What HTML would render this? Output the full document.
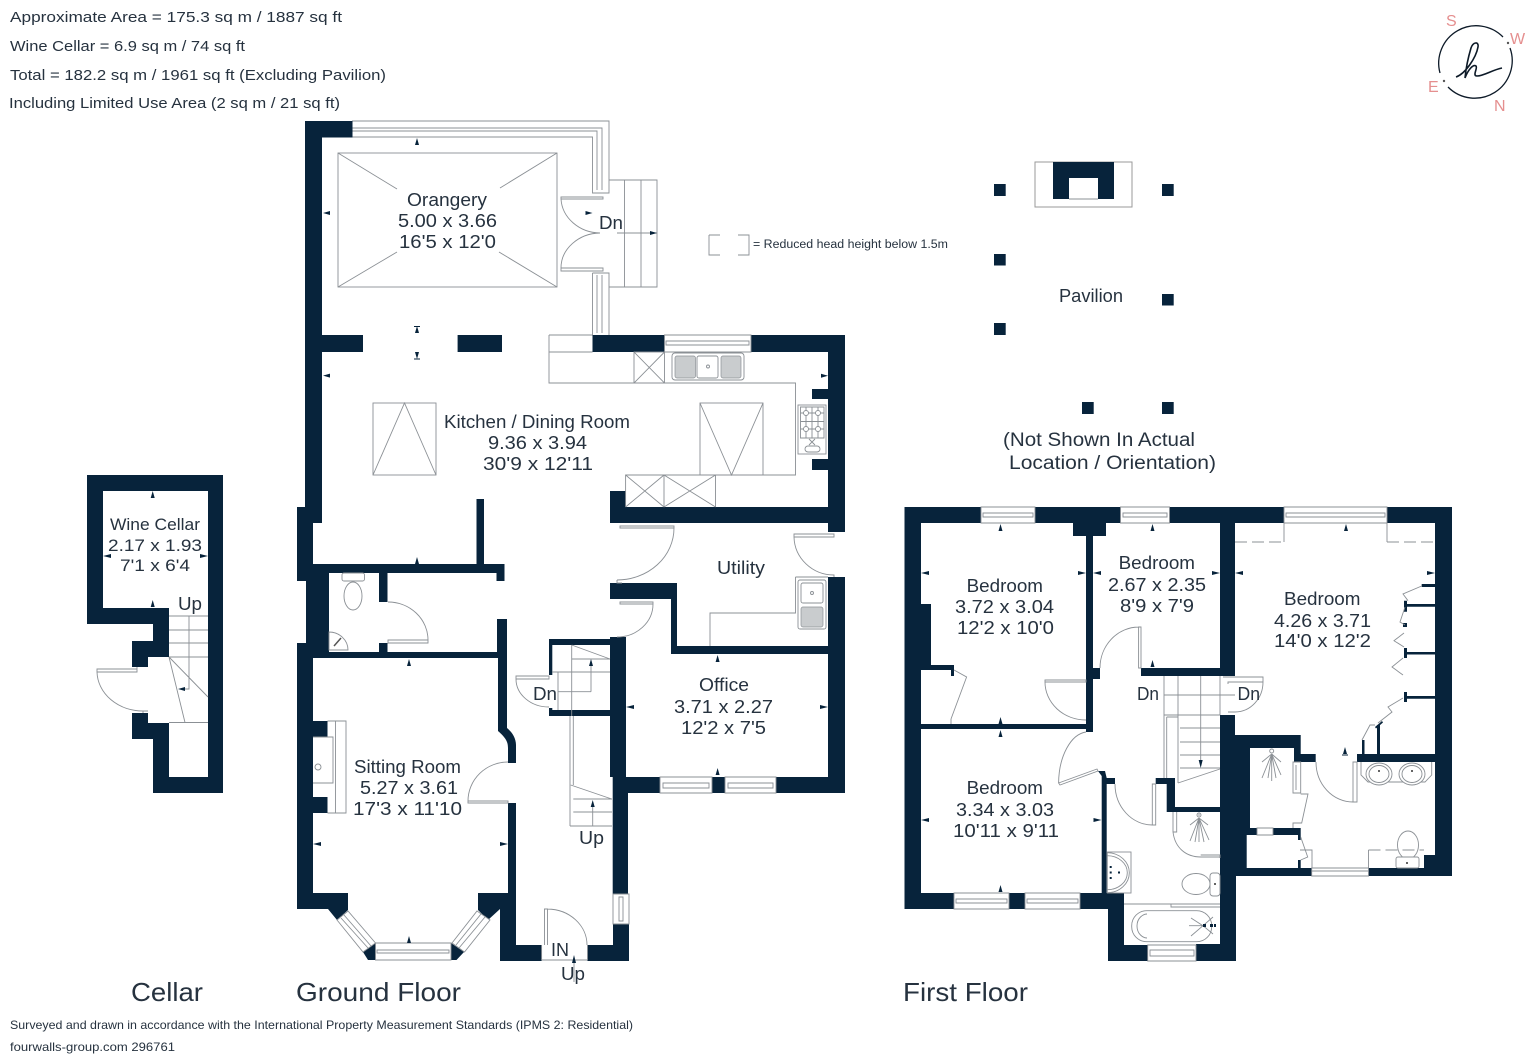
<!DOCTYPE html>
<html><head><meta charset="utf-8"><style>
html,body{margin:0;padding:0;background:#fff}
svg{display:block}
text{font-family:"Liberation Sans",sans-serif;fill:#26323f}
.w{fill:#07233b;stroke:none}
.l{fill:none;stroke:#8b9095;stroke-width:.9}
.f{fill:#fff;stroke:#8b9095;stroke-width:.9}
.a{fill:#07233b;stroke:none}
.r{font-size:18px;text-anchor:start}
.h{font-size:15px}
.t{font-size:26px}
</style></head><body>
<svg xmlns="http://www.w3.org/2000/svg" width="1538" height="1058" viewBox="0 0 1538 1058">
<rect width="1538" height="1058" fill="#fff"/>

<!-- header -->
<text class="h" x="10" y="22" textLength="332" lengthAdjust="spacingAndGlyphs">Approximate Area = 175.3 sq m / 1887 sq ft</text>
<text class="h" x="10" y="51" textLength="235" lengthAdjust="spacingAndGlyphs">Wine Cellar = 6.9 sq m / 74 sq ft</text>
<text class="h" x="10" y="80" textLength="376" lengthAdjust="spacingAndGlyphs">Total = 182.2 sq m / 1961 sq ft (Excluding Pavilion)</text>
<text class="h" x="9" y="108" textLength="331" lengthAdjust="spacingAndGlyphs">Including Limited Use Area (2 sq m / 21 sq ft)</text>

<!-- compass -->
<path d="M1503 37A37.5 37.5 0 0 0 1440 73M1448 87A37.5 37.5 0 0 0 1510 48" fill="none" stroke="#0d1a28" stroke-width="1.3"/>
<path d="M1456 77C1465 74 1476 58 1478 47C1479 41 1473 42 1471 48C1468 58 1466 68 1465 78C1468 70 1473 64 1476 66C1478 68 1472 76 1477 76C1484 76 1492 70 1502 68" fill="none" stroke="#0d1a28" stroke-width="1.6"/>
<circle cx="1508" cy="43" r="1.2" fill="#555"/><circle cx="1444" cy="81" r="1.2" fill="#555"/>
<g font-size="16">
<text x="1446" y="26" style="fill:#e58f8f">S</text><text x="1510" y="44" style="fill:#e58f8f">W</text><text x="1428" y="92" style="fill:#e58f8f">E</text><text x="1494" y="111" style="fill:#e58f8f">N</text></g>

<!-- legend -->
<path class="l" d="M709 235H720M738 235H749V255H738M720 255H709V235" />
<text font-size="11.5" x="753" y="248" textLength="195" lengthAdjust="spacingAndGlyphs">= Reduced head height below 1.5m</text>

<!-- ==== GROUND FLOOR ==== -->
<!-- orangery glazing -->
<path class="l" d="M352 121H609V193H592.5V137H352M352 128H602V190M352 131H597V190"/>
<path class="l" d="M592.5 273H609V335M592.5 273V335M597 275V333M602 275V333"/>
<!-- orangery steps -->
<path class="l" d="M609 180H657V287H609M624.5 180V287M641 180V287"/>
<path class="l" d="M617 233H657"/><path class="a" d="M657 233l-7-2v4z"/>
<!-- orangery doors -->
<path class="l" d="M561 197H603V199H561ZM561 268H603V271H561ZM561 199A40 36 0 0 0 600 233M561 268A40 35 0 0 1 600 233"/>
<!-- orangery roof -->
<rect class="l" x="338" y="153" width="219" height="134"/>
<path class="l" d="M338 153L397 189M557 153L500 188M338 287L397 252M557 287L499 252"/>

<!-- walls ground -->
<path class="w" d="M305 121H352.5V137.5H322V523H313V564H504.5V581H496.5V573H387.5V602H379V573H329V652H379V643H387.5V652H497V619H507V728C512 732 516 738 516 745V763H508V748C508 742 506 738 498 731V658H313V893H348V910L337 920L328 909H297V643H306V581H297V507H305Z"/>
<rect class="w" x="476.5" y="499" width="7.5" height="65"/>
<path class="w" d="M322 335H363V352H322ZM457.6 335H502V352H457.6Z"/>
<path class="w" d="M592.5 335H664.5V352H592.5ZM751 335H845V532H828V352H751Z"/>
<path class="w" d="M812 389H828V399H812ZM812 459H828V470H812Z"/>
<path class="w" d="M610 491H626V507H828V523H610Z"/>
<path class="w" d="M610 583H677V646H828V577H845V793H776V777H828V654H671V599H610Z"/>
<path class="w" d="M610 637H626V777H660V793H628V894H612.7V777H610Z"/>
<path class="w" d="M549 639H610V645H552.3V675H549ZM549 708H552.3V710H612V716H549Z"/>
<rect class="w" x="712" y="777" width="13" height="16"/>
<path class="w" d="M613 924H629V961H587.5V945H613Z"/>
<path class="w" d="M500 909H478V893H508V803H516V945H541.6V961H500Z"/>
<path class="w" d="M363 952L375.5 943V960H368Z"/>
<path class="w" d="M451 943L464 952L456.5 960H451Z"/>
<path class="w" d="M478 893V910L488 920L500 909V893Z"/>
<path class="w" d="M313 721H327.5V737H313ZM313 797H327.5V813H313Z"/>
<!-- bay windows -->
<path class="f" d="M375.5 943H451V960H375.5ZM377 950H449V953H377Z"/>
<path class="f" d="M337 920L348 911L375.5 943L363 952Z"/><path class="l" d="M341 918L368 948M344 915L371 946"/>
<path class="f" d="M452 943L464.5 952L490 920L477 911Z"/><path class="l" d="M456 945L481 914M459 948L485 917"/>
<!-- window kitchen / office / hall -->
<path class="f" d="M664.5 335H751V352H664.5ZM666 341H749V345H666Z"/>
<path class="f" d="M660 777H712V793H660ZM663 783H709V788H663Z"/>
<path class="f" d="M725 777H776V793H725ZM728 783H773V788H728Z"/>
<path class="f" d="M613 894H629V924H613ZM619 897H623V921H619Z"/>
<!-- kitchen counters -->
<path class="l" d="M549 335H592.5M549 352H592.5M549 335V383H795.5V475H625.6V507M715.5 475V507M664 475V507"/>
<path class="l" d="M625.6 475L664 507M664 475L625.6 507M664 475L715.5 507M715.5 475L664 507"/>
<rect class="l" x="634" y="352" width="30.5" height="31"/><path class="l" d="M634 352L664.5 383M664.5 352L634 383"/>
<rect class="l" x="672" y="353" width="72" height="27" rx="3"/>
<g fill="#c9ccce" stroke="#8b9095" stroke-width=".7"><rect x="675" y="356" width="20.5" height="22" rx="2"/><rect x="721" y="356" width="20" height="22" rx="2"/></g>
<rect class="l" x="697" y="356" width="21" height="22" rx="2"/><circle class="l" cx="708" cy="366.500" r="1.500"/>
<rect class="l" x="700" y="403" width="63" height="72"/><path class="l" d="M700 403L731.500 475L763 403"/>
<rect class="l" x="373" y="403" width="63" height="72"/><path class="l" d="M373 475L404.500 403L436 475"/>
<!-- hob -->
<rect class="l" x="798" y="405" width="28" height="49"/>
<path class="l" d="M800.500 407H824V438H800.500ZM806 407V438M812 407V438M818 407V438M800.500 413H824M800.500 421.500H824M800.500 429H824"/>
<circle class="f" cx="806" cy="413" r="2.500"/><circle class="f" cx="818" cy="413" r="2.500"/><circle class="f" cx="806" cy="429" r="2.500"/><circle class="f" cx="818" cy="429" r="2.500"/>
<path class="l" d="M809 439L815 445M815 439L809 445"/><rect class="l" x="805" y="446" width="15" height="6" rx="3"/>
<!-- doors -->
<path class="l" d="M620 526H674V528H620ZM674 528A57 52 0 0 1 617 580M617 580V583H622"/>
<path class="l" d="M794 534H834V537H794ZM794 537A40 39 0 0 0 834 575V577"/>
<path class="l" d="M620 602H653V604H620ZM653 604A36 33 0 0 1 617 637"/>
<path class="l" d="M516 676H549V679H516ZM516 679A33 28 0 0 0 549 707"/>
<path class="l" d="M468 801H508V803H468ZM468 801A40 39 0 0 1 508 762"/>
<path class="l" d="M388 640H428V643H388ZM428 640A40 38 0 0 0 388 602"/>
<path class="l" d="M544.500 945V909H547.500V945M547.500 909A40 36 0 0 1 587 945M541.600 960H587.500M541.600 945V960M587.500 945V960"/>
<!-- WC -->
<rect class="l" x="342" y="573" width="22.500" height="8" rx="2"/><ellipse class="l" cx="353" cy="596" rx="9" ry="14"/>
<path class="l" d="M329 632A19 18 0 0 1 348 650H329Z"/><path d="M334 646L341 638" stroke="#555" stroke-width="1.500"/>
<!-- utility -->
<path class="l" d="M795.500 577V613H710V646M795.500 577H828"/>
<rect class="l" x="798" y="580" width="28" height="49" rx="2"/>
<rect class="l" x="801" y="583" width="22" height="20" rx="2"/><circle class="l" cx="812" cy="593" r="1.500"/>
<rect x="801" y="607" width="22" height="20" rx="2" fill="#c9ccce" stroke="#8b9095" stroke-width=".7"/>
<!-- sitting fireplace -->
<path class="l" d="M327.500 721H346V813H327.500M335.500 721V813M313 737H333V783H313"/><circle class="l" cx="318" cy="767" r="3"/>
<!-- ground stairs -->
<path class="l" d="M571.700 645V716M570 716V826M573.300 716V785M571.700 645L610 659M571.700 659H610M552.300 672H610M558 691.700H591M558 672V710M570.700 785L611.700 799M573.300 799H612M573.300 812H612M570 826H612"/>
<path class="l" d="M591 691.700V661M592.700 826V802"/>
<path class="a" d="M591 659l-2 7h4zM592.700 800l-2 7h4z"/>
<path class="l" d="M574 961V982"/><path class="a" d="M574 955l-2 8h4z"/>

<!-- CELLAR -->
<path class="w" d="M87 475H223V793H153V739H132V713H148V723H169V777H208V491H103V608H169V657H148V667H132V641H153V624H87Z"/>
<path class="l" d="M169 616H208M169 630H208M169 643H208M169 657H208M169 722.500H208M169 657L208 697M169 657L185 722.500M189 616V689H180"/>
<path class="a" d="M178 689l7-2v4z"/>
<path class="l" d="M97 669H137V672H97ZM97 672A46 40 0 0 0 143 711H148M137 667V672M143 711V713"/>

<!-- PAVILION -->
<rect x="1035" y="162" width="97" height="45" fill="#fff" stroke="#9a9a9a" stroke-width="1"/>
<path class="w" d="M1053 162H1114V199H1098V178H1069V199H1053Z"/>
<path class="l" d="M1069 199H1098"/>
<path class="w" d="M994 184h11.700v12h-11.700zM1162 184h11.700v12h-11.700zM994 254h11.700v11.500h-11.700zM994 323h11.700v12h-11.700zM1162 294h11.700v11.500h-11.700zM1082 402h11.700v12h-11.700zM1162 402h11.700v12h-11.700z"/>

<!-- ==== FIRST FLOOR ==== -->
<path class="w" d="M904.500 507H981V523H921V604H931V665H954V676H951V670H921V724H1086V536H1073V523H1035V507H1120.500V523H1106V536H1093V668H1100V679H1093V720H1093V732H1086V729H921V893H954V909H904.500Z"/>
<path class="w" d="M1169.500 507H1284V523H1235V676H1141V668H1220V523H1169.500Z"/>
<path class="w" d="M1387 507H1452V876H1368.500V868H1424V855H1435V523H1387Z"/>
<path class="w" d="M1220 715H1235V735H1300.700V754H1315.700V762H1294V748H1250V828H1257V835H1246.700V868H1311.700V876H1236V961H1196V944H1220Z"/>
<path class="w" d="M1273 828H1300.700V840H1298V835H1273ZM1298 860H1300.700V868H1298Z"/>
<path class="w" d="M1357 754H1435V762H1357Z"/>
<path class="w" d="M1098 771H1105L1106.700 778H1115V784H1106.700V893H1124V945H1147.700V961H1108V909H1080V893H1101.700V776Z"/>
<path class="w" d="M1009 893H1025V909H1009Z"/>
<path class="w" d="M1155.700 778H1175V807H1220V812H1166.700V784H1155.700Z"/>
<!-- wardrobe partitions -->
<path class="w" d="M1377 725H1380V754H1377ZM1362 740H1364.500V754H1362ZM1375 727L1382 721L1383 722.500L1376 728.500ZM1405 604H1435V606.700H1405ZM1405 652H1435V654.500H1405ZM1405 696H1435V698.700H1405ZM1421.700 584H1435V587H1421.700ZM1404 600.700H1407V611.700H1404ZM1404 648H1407V658H1404ZM1404 692H1407V702H1404ZM1403 623H1407V627H1403Z"/>
<path class="l" d="M1421.700 586L1403 594L1408 600.700M1405 607L1400 622L1405 625M1404 633L1394 640.700L1404 647M1403 658L1392 667L1403 675M1403 698L1388 707L1392 712L1378 723M1375 725H1370L1362 740"/>
<!-- first floor windows -->
<path class="f" d="M981 507H1035V523H981ZM983 513H1033V517H983Z"/>
<path class="f" d="M1120.500 507H1169.500V523H1120.500ZM1123 513H1167V517H1123Z"/>
<path class="f" d="M1284 507H1387V523H1284ZM1286 513H1385V517H1286Z"/>
<path class="f" d="M954 893H1009V909H954ZM956 899H1007V903H956Z"/>
<path class="f" d="M1025 893H1080V909H1025ZM1027 899H1078V903H1027Z"/>
<path class="f" d="M1147.700 945H1196V961H1147.700ZM1150 950H1194V956H1150Z"/>
<path class="f" d="M1311.700 868H1368.500V876H1311.700ZM1311.700 871H1368.500"/>
<path class="f" d="M1257 828H1273V835H1257Z"/>
<!-- reduced head height -->
<path class="l" d="M1284 523V542M1387 523V542" />
<path class="l" stroke-dasharray="12 5" d="M1235 542H1284M1387 542H1436"/>
<path class="l" stroke-dasharray="12 5" d="M1368.500 850H1424"/><path class="l" d="M1368.500 850V868"/>
<!-- first floor doors -->
<path class="l" d="M1138.600 627H1141V668H1138.600ZM1138.600 627A39 41 0 0 0 1100 668"/>
<path class="l" d="M1045 680H1086V682H1045ZM1045 682A41 38 0 0 0 1086 720"/>
<path class="l" d="M1058.600 783L1097 769L1098 771L1060 785ZM1058.600 783A30 52 0 0 1 1086 732"/>
<path class="l" d="M1152.300 784H1155.700V825H1152.300ZM1152.300 825A37.300 41 0 0 1 1115 784"/>
<path class="l" d="M1223 677H1263V682H1228V684M1263 682A28 30 0 0 1 1235 712M1228 712H1235"/>
<path class="l" d="M1353 762H1357V802H1353ZM1353 802A37 40 0 0 1 1316 762"/>
<path class="l" d="M951 719L966.600 677L954 670M951 719V724"/>
<!-- first stairs -->
<path class="l" d="M1164 676V778M1164 695H1235M1164 715H1220M1180 728H1220M1180 742H1220M1180 755H1220M1180 768H1220M1178 676V783M1166.700 717H1178V778M1166.700 717V778M1200.700 676V715M1220 676V715M1178 783L1220 769M1200.700 695V762"/>
<path class="a" d="M1200.700 768l-2-8h4z"/>
<!-- bath -->
<path class="l" d="M1173 812V832C1175 848 1186 857 1201 857H1220M1176.700 812V832H1173M1200.700 855H1220V858"/>
<path class="l" d="M1199 816V814M1199 818L1190 841M1199 818L1195 842M1199 818V842M1199 818L1204 842M1199 818L1209 840M1199 818L1190 825M1199 818L1208 825"/>
<circle class="l" cx="1199" cy="815" r="2"/>
<rect class="l" x="1107.300" y="852" width="23.700" height="41"/>
<path class="l" d="M1107.300 852.700A22 20 0 0 1 1107.300 892.700M1107.300 855.700A20 17 0 0 1 1107.300 889.700"/>
<path class="a" d="M1109.700 866h2v2h-2zM1109.700 871.500h2v2h-2zM1109.700 877h2v2h-2zM1118 871.500h2v2h-2z"/>
<ellipse class="l" cx="1196" cy="884" rx="14" ry="10.500"/><rect class="l" x="1210" y="873" width="10" height="23" rx="3"/>
<circle cx="1215" cy="884" r="1" fill="#333"/>
<path class="l" d="M1124 904H1220M1171 904V907H1220"/>
<rect class="l" x="1131.700" y="910.700" width="80" height="31" rx="15"/>
<path class="l" d="M1137 926C1137 918 1143 914 1147 914M1137 926C1137 934 1143 938 1147 938"/>
<path class="l" d="M1203 925.700L1191 918M1203 925.700H1189M1203 925.700L1191 936M1203 925.700L1213 917M1203 925.700L1213 934"/>
<path class="a" d="M1203 924h3v3h-3zM1210 924h3v3h-3zM1214 924h2v3h-2z"/>
<!-- ensuite -->
<path class="l" d="M1271.700 754L1262 778M1271.700 754L1268 778M1271.700 754V781M1271.700 754L1276 778M1271.700 754L1281 775M1271.700 754L1262 762M1271.700 754L1281 762"/>
<circle class="l" cx="1271.700" cy="751" r="2"/>
<path class="l" d="M1293 762H1300.700V793H1293ZM1296 765V790M1300.700 794H1308L1301.700 823H1293V828M1300.700 837L1307.700 857L1300.700 860M1300 850H1312V868"/>
<path class="l" d="M1361 762V775L1368 782H1425L1431.700 775V762"/>
<ellipse class="f" cx="1379" cy="774" rx="13" ry="11"/><ellipse class="l" cx="1379" cy="774" rx="10" ry="8.500"/>
<ellipse class="f" cx="1412" cy="774" rx="13" ry="11"/><ellipse class="l" cx="1412" cy="774" rx="10" ry="8.500"/>
<circle cx="1379" cy="771" r="1" fill="#333"/><circle cx="1412" cy="771" r="1" fill="#333"/>
<ellipse class="l" cx="1408" cy="845" rx="10.500" ry="14"/><rect class="f" x="1396" y="857" width="23" height="11" rx="2"/>
<circle cx="1407" cy="863" r="1" fill="#333"/>

<!-- dimension marks -->
<path class="a" d="M417 138l-2 7h4zM417 326l-2 7h4zM417 359l-2 -7h4zM323 213l7 -2v4zM323 375.600l7 -2v4zM592.500 213l-7 -2v4zM828 375.700l-7 -2v4zM417 557l-2 7h4zM409 659l-2 7h4zM313 844l8 -2v4zM508 844l-8 -2v4zM409 936l-2 7h4zM717.600 655l-2 7h4zM717.600 768l-2 7h4zM626 707l8 -2v4zM828 707l-8 -2v4zM152.700 491l-2 7h4zM152.700 600l-2 7h4zM103 556l8 -2v4zM208 556l-8 -2v4zM1000.500 524l-2 7h4zM1000.500 717l-2 7h4zM921 573l8 -2v4zM1086 573l-8 -2v4zM1152.500 524l-2 7h4zM1152.500 660l-2 7h4zM1093 573l8 -2v4zM1220 573l-8 -2v4zM1346 524l-2 7h4zM1345 747l-2 7h4zM1235 573l8 -2v4zM1435 573l-8 -2v4zM1000.500 730l-2 7h4zM1000.500 885l-2 7h4zM921 820l8 -2v4zM1101.500 820l-8 -2v4z"/>
<path class="l" d="M414 326.500H420M414 359H420M1342 755H1348" style="stroke:#07233b"/>

<!-- room labels -->
<text class="r" x="407" y="206" textLength="80" lengthAdjust="spacingAndGlyphs">Orangery</text>
<text class="r" x="398" y="227" textLength="99" lengthAdjust="spacingAndGlyphs">5.00 x 3.66</text>
<text class="r" x="399" y="248" textLength="97" lengthAdjust="spacingAndGlyphs">16'5 x 12'0</text>
<text class="r" x="599" y="229" textLength="24" lengthAdjust="spacingAndGlyphs">Dn</text>
<text class="r" x="444" y="428" textLength="186" lengthAdjust="spacingAndGlyphs">Kitchen / Dining Room</text>
<text class="r" x="488" y="449" textLength="99" lengthAdjust="spacingAndGlyphs">9.36 x 3.94</text>
<text class="r" x="483" y="470" textLength="110" lengthAdjust="spacingAndGlyphs">30'9 x 12'11</text>
<text class="r" x="717" y="574" textLength="48" lengthAdjust="spacingAndGlyphs">Utility</text>
<text class="r" x="699" y="691" textLength="50" lengthAdjust="spacingAndGlyphs">Office</text>
<text class="r" x="674" y="713" textLength="99" lengthAdjust="spacingAndGlyphs">3.71 x 2.27</text>
<text class="r" x="681" y="734" textLength="85" lengthAdjust="spacingAndGlyphs">12'2 x 7'5</text>
<text class="r" x="354" y="773" textLength="107" lengthAdjust="spacingAndGlyphs">Sitting Room</text>
<text class="r" x="360" y="794" textLength="98" lengthAdjust="spacingAndGlyphs">5.27 x 3.61</text>
<text class="r" x="353" y="815" textLength="109" lengthAdjust="spacingAndGlyphs">17'3 x 11'10</text>
<text class="r" x="533" y="700" textLength="24" lengthAdjust="spacingAndGlyphs">Dn</text>
<text class="r" x="579" y="844" textLength="25" lengthAdjust="spacingAndGlyphs">Up</text>
<text class="r" x="551" y="956" textLength="18" lengthAdjust="spacingAndGlyphs">IN</text>
<text class="r" x="561" y="980" textLength="24" lengthAdjust="spacingAndGlyphs">Up</text>
<text class="r" x="110" y="530" textLength="90" lengthAdjust="spacingAndGlyphs" style="font-size:17px">Wine Cellar</text>
<text class="r" x="108" y="551" textLength="94" lengthAdjust="spacingAndGlyphs" style="font-size:17px">2.17 x 1.93</text>
<text class="r" x="120" y="571" textLength="70" lengthAdjust="spacingAndGlyphs" style="font-size:17px">7'1 x 6'4</text>
<text class="r" x="178" y="610" textLength="24" lengthAdjust="spacingAndGlyphs">Up</text>
<text class="r" x="1059" y="302" textLength="64" lengthAdjust="spacingAndGlyphs">Pavilion</text>
<text class="r" x="1003" y="446" textLength="192" lengthAdjust="spacingAndGlyphs" style="font-size:19px">(Not Shown In Actual</text>
<text class="r" x="1009" y="469" textLength="207" lengthAdjust="spacingAndGlyphs" style="font-size:19px">Location / Orientation)</text>
<text class="r" x="966.600" y="592" textLength="76.400" lengthAdjust="spacingAndGlyphs">Bedroom</text>
<text class="r" x="955" y="613" textLength="99" lengthAdjust="spacingAndGlyphs">3.72 x 3.04</text>
<text class="r" x="957" y="634" textLength="97" lengthAdjust="spacingAndGlyphs">12'2 x 10'0</text>
<text class="r" x="1118.600" y="569" textLength="76.400" lengthAdjust="spacingAndGlyphs">Bedroom</text>
<text class="r" x="1108" y="591" textLength="98" lengthAdjust="spacingAndGlyphs">2.67 x 2.35</text>
<text class="r" x="1120" y="612" textLength="74" lengthAdjust="spacingAndGlyphs">8'9 x 7'9</text>
<text class="r" x="1284" y="605" textLength="76.500" lengthAdjust="spacingAndGlyphs">Bedroom</text>
<text class="r" x="1274" y="627" textLength="97" lengthAdjust="spacingAndGlyphs">4.26 x 3.71</text>
<text class="r" x="1274" y="647" textLength="97" lengthAdjust="spacingAndGlyphs">14'0 x 12'2</text>
<text class="r" x="966.600" y="794" textLength="76.400" lengthAdjust="spacingAndGlyphs">Bedroom</text>
<text class="r" x="956" y="816" textLength="98" lengthAdjust="spacingAndGlyphs">3.34 x 3.03</text>
<text class="r" x="953" y="837" textLength="106" lengthAdjust="spacingAndGlyphs">10'11 x 9'11</text>
<text class="r" x="1137" y="700" textLength="22" lengthAdjust="spacingAndGlyphs">Dn</text>
<text class="r" x="1237.500" y="700" textLength="22.500" lengthAdjust="spacingAndGlyphs">Dn</text>

<!-- titles -->
<text class="t" x="131" y="1001" textLength="72" lengthAdjust="spacingAndGlyphs">Cellar</text>
<text class="t" x="296" y="1001" textLength="165" lengthAdjust="spacingAndGlyphs">Ground Floor</text>
<text class="t" x="903" y="1001" textLength="125" lengthAdjust="spacingAndGlyphs">First Floor</text>

<!-- footer -->
<text font-size="12" x="10" y="1029" textLength="623" lengthAdjust="spacingAndGlyphs">Surveyed and drawn in accordance with the International Property Measurement Standards (IPMS 2: Residential)</text>
<text font-size="12" x="10" y="1051" textLength="165" lengthAdjust="spacingAndGlyphs">fourwalls-group.com 296761</text>
</svg>
</body></html>
